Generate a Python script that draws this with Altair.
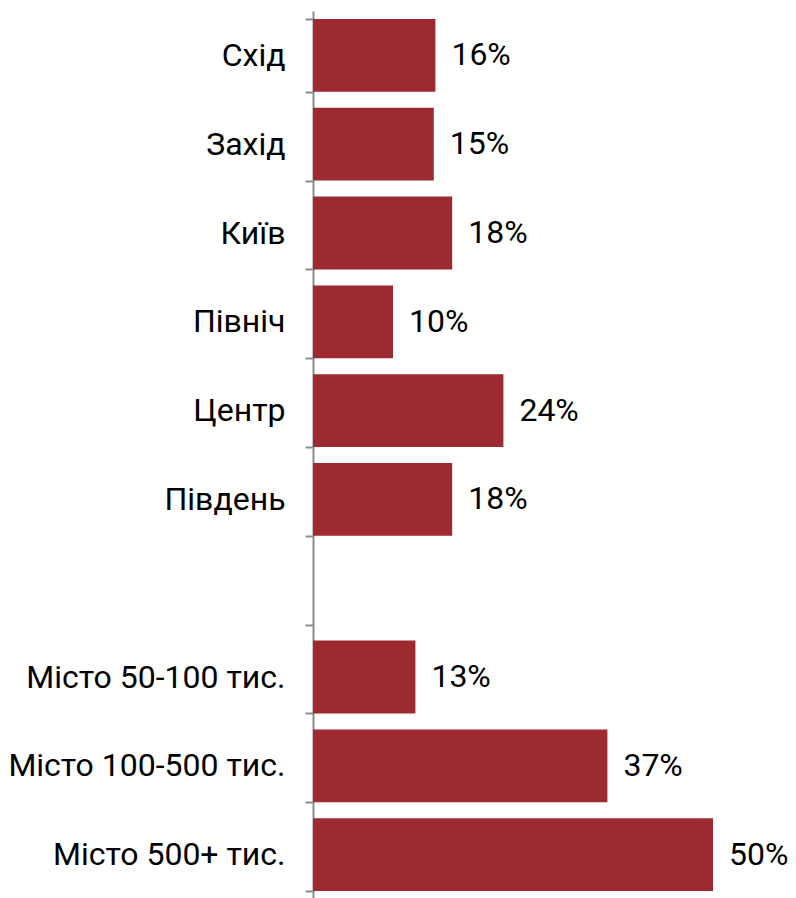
import altair as alt
import pandas as pd

categories = ["Схід", "Захід", "Київ", "Північ", "Центр", "Південь",
              "Місто 50-100 тис.", "Місто 100-500 тис.", "Місто 500+ тис."]
bar_values = [15.3, 15.1, 17.4, 10.0, 23.8, 17.4, 12.8, 36.8, 50.0]
labels = ["16%", "15%", "18%", "10%", "24%", "18%", "13%", "37%", "50%"]

order = categories[:6] + [" "] + categories[6:]

df = pd.DataFrame({"cat": categories, "val": bar_values, "lab": labels})

y = alt.Y("cat:N", sort=order,
          scale=alt.Scale(domain=order, paddingInner=0.18, paddingOuter=0.09),
          axis=alt.Axis(title=None, tickBand="extent", tickSize=8,
                        tickColor="#8c8c8c", domainColor="#8c8c8c",
                        domainWidth=2, tickWidth=2,
                        labelFont="Roboto", labelFontSize=32, labelColor="#000000",
                        labelPadding=20, labelLimit=400))
x = alt.X("val:Q", scale=alt.Scale(domain=[0, 50], nice=False), axis=None)

bars = alt.Chart(df).mark_bar(color="#9C2A30").encode(x=x, y=y)
text = alt.Chart(df).mark_text(align="left", baseline="middle", dx=16,
                               font="Roboto", fontSize=32, color="#000000").encode(
    x=x, y=y, text="lab:N")

chart = (bars + text).properties(
    width=400, height=888,
    padding={"left": 305, "top": 3, "right": 75, "bottom": 0},
    autosize=alt.AutoSizeParams(type="none"),
).configure_view(stroke=None)

chart.save("out.html", embed_options={"renderer": "svg", "actions": False})
